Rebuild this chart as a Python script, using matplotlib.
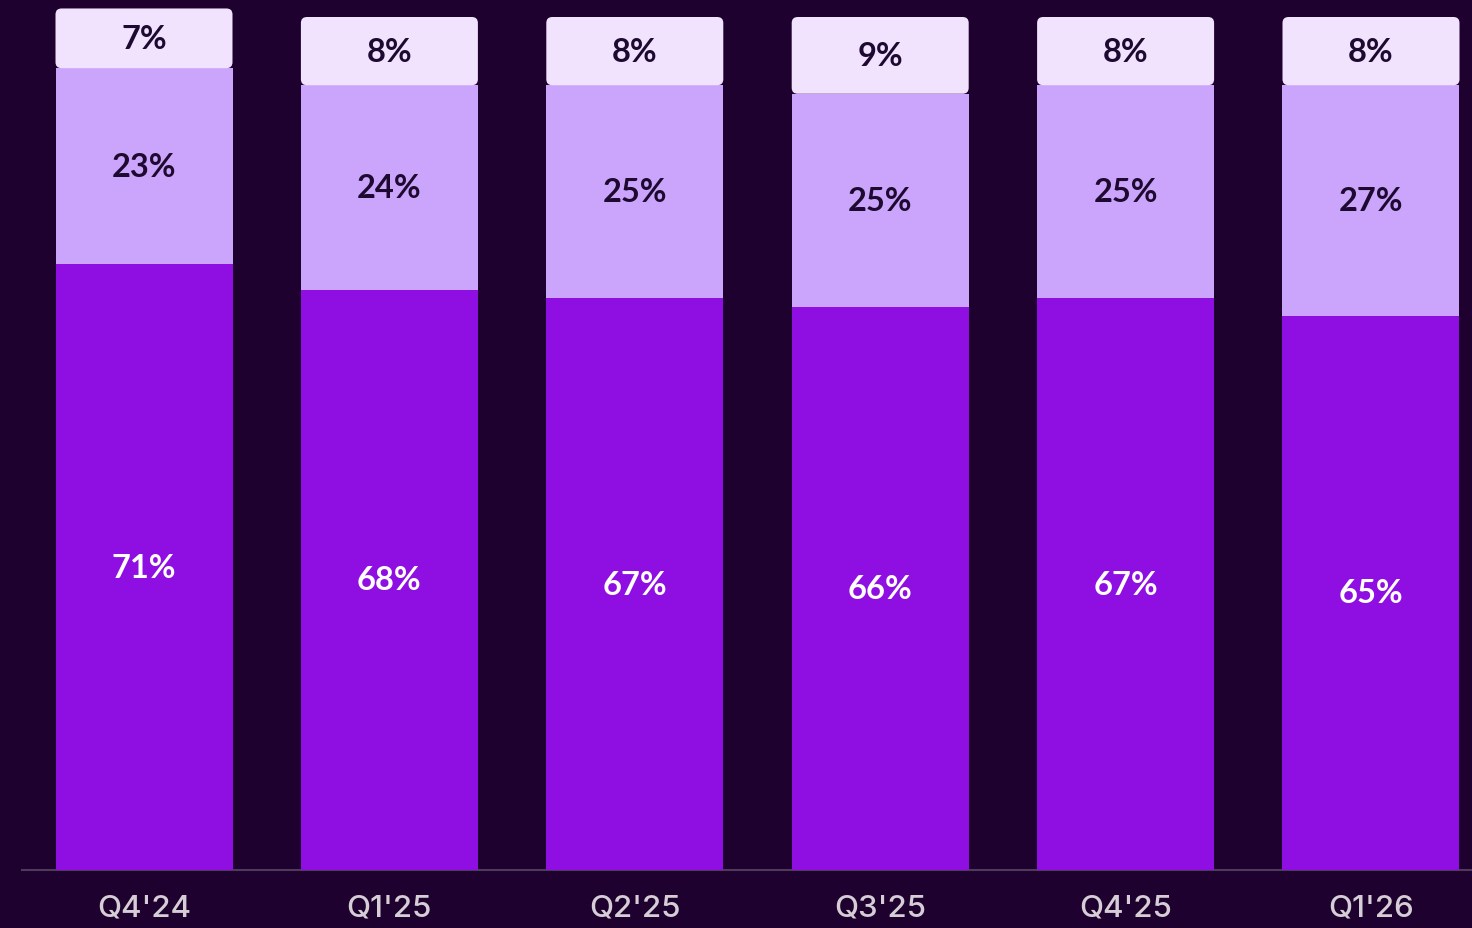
import matplotlib
matplotlib.use("Agg")
import matplotlib.pyplot as plt
from matplotlib.patches import FancyBboxPatch
import numpy as np

quarters = ["Q4'24", "Q1'25", "Q2'25", "Q3'25", "Q4'25", "Q1'26"]
bottom_share = [71, 68, 67, 66, 67, 65]
middle_share = [23, 24, 25, 25, 25, 27]
top_share = [7, 8, 8, 9, 8, 8]

BG = "#1e012e"
C_BOTTOM = "#8f0fe2"
C_MIDDLE = "#caa5fb"
C_TOP = "#f1e2fd"
TXT_DARK = "#1e0a30"
TXT_LIGHT = "#ffffff"
TICK_COL = "#d6ced6"

W, H = 1472, 929
fig = plt.figure(figsize=(W / 100, H / 100), dpi=100, facecolor=BG)

px_per_x = 245.4
px_per_pct = 8.53
base_px = 871
left_px = 22
ax = fig.add_axes([left_px / W, (H - base_px) / H, 1 - left_px / W, base_px / H])
ax.set_facecolor(BG)
x0 = (left_px - 144) / px_per_x
x1 = (W - 144) / px_per_x
ax.set_xlim(x0, x1)
ax.set_ylim(0, base_px / px_per_pct)

x = np.arange(len(quarters))
width = 177 / px_per_x
b = np.array(bottom_share)
m = np.array(middle_share)
t = np.array(top_share)

ax.bar(x, b, width=width, color=C_BOTTOM, zorder=2)
ax.bar(x, m, width=width, bottom=b, color=C_MIDDLE, zorder=2)

r = 6 / px_per_x
aspect = (1 / px_per_pct) / (1 / px_per_x)
for xi, bi, mi, ti in zip(x, b, m, t):
    patch = FancyBboxPatch((xi - width / 2, bi + mi), width, ti,
                           boxstyle=f"round,pad=0,rounding_size={r}",
                           mutation_aspect=aspect,
                           facecolor=C_TOP, edgecolor="none", zorder=3)
    ax.add_patch(patch)

font = "Lato"
fs = 23.5
for xi, bi, mi, ti in zip(x, b, m, t):
    ax.text(xi, bi / 2, f"{bi}%", ha="center", va="center", color=TXT_LIGHT,
            fontsize=fs, fontweight="bold", family=font, zorder=5)
    ax.text(xi, bi + mi / 2, f"{mi}%", ha="center", va="center", color=TXT_DARK,
            fontsize=fs, fontweight="bold", family=font, zorder=5)
    ax.text(xi, bi + mi + ti / 2, f"{ti}%", ha="center", va="center", color=TXT_DARK,
            fontsize=fs, fontweight="bold", family=font, zorder=5)

for s in ["top", "right", "left"]:
    ax.spines[s].set_visible(False)
ax.spines["bottom"].set_color("#4d3a5c")
ax.spines["bottom"].set_linewidth(1.5)
ax.spines["bottom"].set_zorder(1)
ax.set_yticks([])
ax.set_xticks(x)
ax.set_xticklabels(quarters, family="Inter", fontweight="medium", fontsize=22.5,
                   color=TICK_COL)
ax.tick_params(axis="x", length=0, pad=17)

fig.savefig("out.png", dpi=100, facecolor=BG)
